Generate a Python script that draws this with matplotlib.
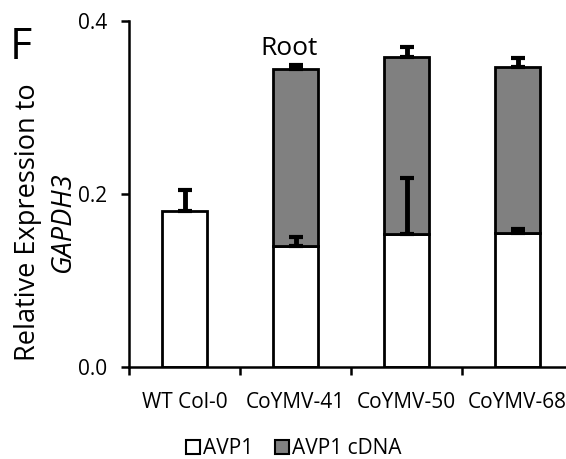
import matplotlib.pyplot as plt
from matplotlib.patches import Patch

# 資料
categories = ['WT Col-0', 'CoYMV-41', 'CoYMV-50', 'CoYMV-68']
avp1 = [0.180, 0.140, 0.154, 0.155]
avp1_err = [0.025, 0.010, 0.065, 0.004]
cdna = [0.0, 0.205, 0.204, 0.192]
cdna_err = [0.0, 0.004, 0.012, 0.010]
yticks = [0.0, 0.2, 0.4]

plt.rcParams['font.family'] = ['Open Sans', 'DejaVu Sans']

fig = plt.figure(figsize=(5.66, 4.59), dpi=100)
ax = fig.add_axes([0.228, 0.2004, 0.7845, 0.7538])

x = list(range(len(categories)))
ax.bar(x, avp1, width=0.4, color='white', edgecolor='black', linewidth=2, zorder=2)
ax.bar(x[1:], cdna[1:], width=0.4, bottom=avp1[1:], color='#808080',
       edgecolor='black', linewidth=2, zorder=2)

# 誤差線（只畫上方）
ax.errorbar(x, avp1, yerr=[[0] * 4, avp1_err], fmt='none', ecolor='black',
            elinewidth=3.5, capsize=4.7, capthick=3, zorder=3)
tops = [a + c for a, c in zip(avp1[1:], cdna[1:])]
ax.errorbar(x[1:], tops, yerr=[[0] * 3, cdna_err[1:]], fmt='none', ecolor='black',
            elinewidth=3.5, capsize=4.7, capthick=3, zorder=3)

ax.set_xlim(-0.5, 3.5)
ax.set_ylim(0, 0.4)
ax.set_yticks(yticks)
ax.set_yticklabels([f'{v:.1f}' for v in yticks], fontsize=15)
ax.set_xticks([-0.5, 0.5, 1.5, 2.5])
ax.set_xticklabels([])
ax.set_xticks(x, minor=True)
ax.set_xticklabels(categories, minor=True, fontsize=15)
ax.tick_params(axis='x', which='minor', length=0, pad=18)
ax.tick_params(axis='both', which='major', direction='out', length=6, width=1.8)
ax.tick_params(axis='y', pad=10)

for s in ['top', 'right']:
    ax.spines[s].set_visible(False)
for s in ['left', 'bottom']:
    ax.spines[s].set_linewidth(1.8)

# 文字
fig.text(0.05, 0.516, 'Relative Expression to', rotation=90, fontsize=19.5,
         ha='center', va='center')
fig.text(0.111, 0.516, 'GAPDH3', rotation=90, fontsize=19.5, style='italic',
         ha='center', va='center')
fig.text(0.036, 0.895, 'F', fontsize=31, ha='center', va='center')
ax.text(0.94, 0.3607, 'Root', fontsize=19, ha='center', va='baseline')

handles = [Patch(facecolor='white', edgecolor='black', linewidth=1.5, label='AVP1'),
           Patch(facecolor='#808080', edgecolor='black', linewidth=1.5, label='AVP1 cDNA')]
fig.legend(handles=handles, loc='center', bbox_to_anchor=(0.519, 0.022), ncol=2,
           frameon=False, fontsize=15, handlelength=0.7, handleheight=0.7,
           handletextpad=0.15, columnspacing=1.0)

fig.savefig('out.png', dpi=100)
